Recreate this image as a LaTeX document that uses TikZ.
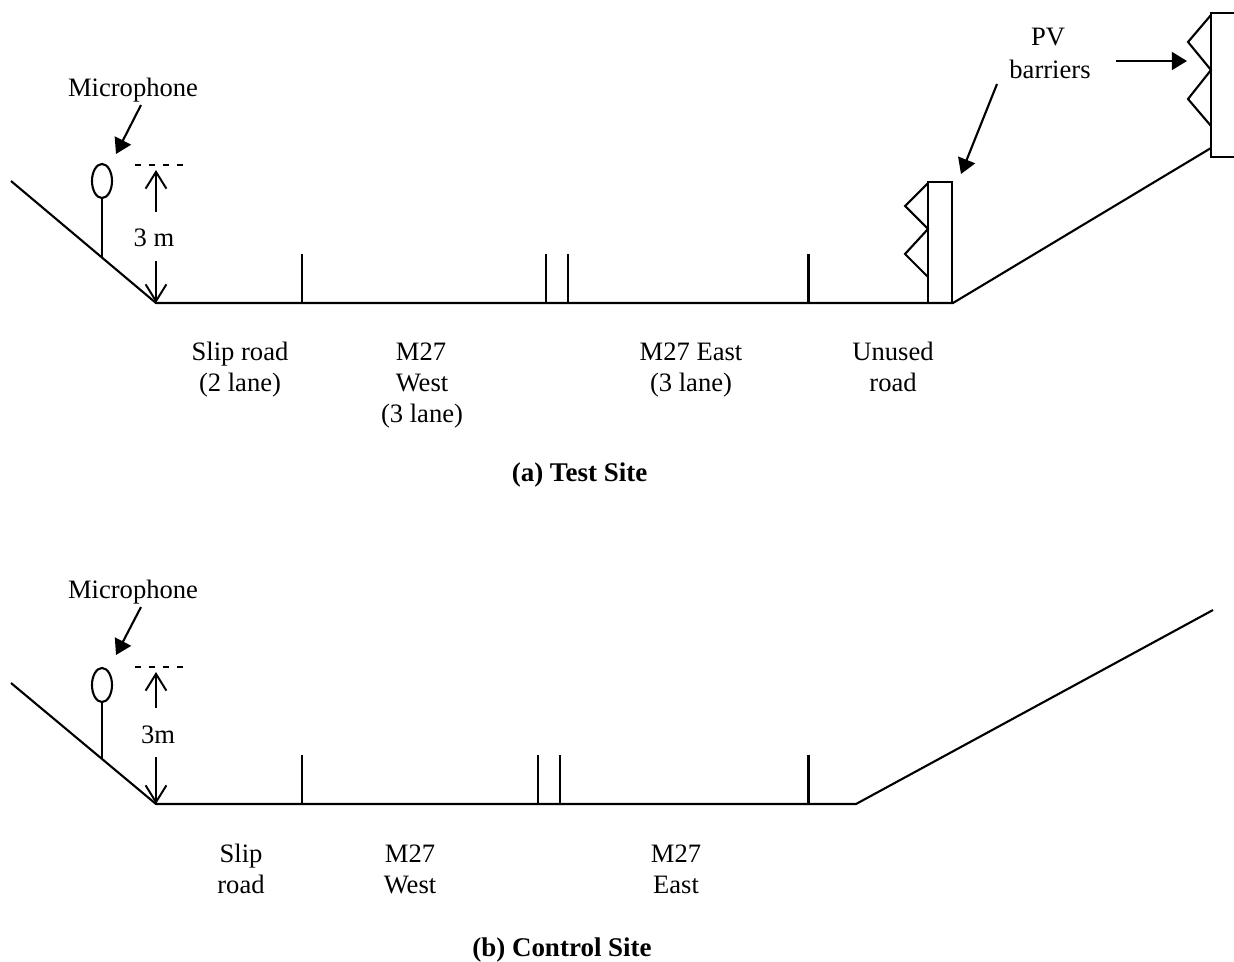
\documentclass[tikz,border=0pt]{standalone}
\usepackage{fontspec}
\setmainfont{Liberation Serif}
\usetikzlibrary{arrows.meta,shapes.geometric}

\tikzset{
  road/.style={line width=1.5pt},
  labelarrow/.style={line width=1.5pt, -{Triangle[length=0.38cm,width=0.45cm]}},
  heightarrow/.style={line width=1.4pt, -{Straight Barb[length=0.42cm,width=0.52cm]}},
  levelline/.style={line width=1.2pt, dash pattern=on 4.6pt off 5.3pt},
  mic/.style={draw, road, ellipse, minimum width=0.5cm, minimum height=0.85cm, inner sep=0pt},
  txt/.style={anchor=base, inner sep=0pt, font=\fontsize{18.9}{22}\selectfont},
  title/.style={txt, font=\fontsize{19.2}{22}\selectfont\bfseries}
}

\begin{document}
\begin{tikzpicture}[x=0.025cm, y=-0.025cm]
\useasboundingbox (0,0) rectangle (1234,961);

\def\xs{11};
\def\xm{102};
\def\xh{156};
\def\xa{301.6};
\def\xd{808.5};

% (a) test site
\def\yg{303};
\def\yt{254};

\coordinate (slopeA) at (\xs, 181);
\coordinate (toeA) at (\xh, \yg);
\coordinate (endA) at (953, \yg);
\coordinate (topA) at (1211, 148);
\draw[road] (slopeA) -- (toeA) -- (endA) -- (topA);

\node[mic] (micA) at (\xm, 181) {};
\coordinate (footA) at (\xm, 258);
\draw[road] (micA) -- (footA);

\draw[road] (\xa, \yt) -- (\xa, \yg);
\draw[road] (546, \yt) -- (546, \yg);
\draw[road] (568, \yt) -- (568, \yg);
\draw[road] (\xd, \yt) -- (\xd, \yg);

\coordinate (lvlaA) at (135, 165);
\coordinate (lvlbA) at (183, 165);
\draw[levelline] (lvlaA) -- (lvlbA);

\node[txt] (hA) at (154, 246) {3 m};
\draw[heightarrow] (\xh, 212) -- (\xh, 170);
\draw[heightarrow] (\xh, 261) -- (toeA);

\node[txt] (lblmicA) at (133, 96) {Microphone};
\coordinate (micfromA) at (141, 105);
\coordinate (mictoA) at (116, 154);
\draw[labelarrow] (micfromA) -- (mictoA);

% barriers
\draw[road] (928, 182) rectangle (952, \yg);
\draw[road] (928, 183) -- (905, 206) -- (928, 229) -- (905, 254) -- (928, 277);
\draw[road] (1234, 13) -- (1211, 13) -- (1211, 157) -- (1234, 157);
\draw[road] (1211, 15) -- (1188, 42) -- (1211, 70) -- (1188, 99) -- (1211, 126);

\node[txt] (lblpv) at (1048, 45) {PV};
\node[txt] (lblbar) at (1050, 78) {barriers};
\coordinate (pvfroma) at (997, 84);
\coordinate (pvtoa) at (961, 174);
\coordinate (pvfromb) at (1116, 61);
\coordinate (pvtob) at (1187, 61);
\draw[labelarrow] (pvfroma) -- (pvtoa);
\draw[labelarrow] (pvfromb) -- (pvtob);

\node[txt] (sliprA) at (240, 360) {Slip road};
\node[txt] (sliplA) at (240, 391) {(2 lane)};
\node[txt] (mwa) at (421, 360) {M27};
\node[txt] (mwb) at (422, 391) {West};
\node[txt] (mwc) at (422, 422) {(3 lane)};
\node[txt] (mea) at (691, 360) {M27 East};
\node[txt] (meb) at (691, 391) {(3 lane)};
\node[txt] (una) at (893, 360) {Unused};
\node[txt] (unb) at (893, 391) {road};
\node[title] (titleA) at (579.5, 481) {(a) Test Site};

% (b) control site
\def\yG{804};
\def\yT{755};

\coordinate (slopeB) at (\xs, 683);
\coordinate (toeB) at (\xh, \yG);
\coordinate (endB) at (856, \yG);
\coordinate (topB) at (1213, 610);
\draw[road] (slopeB) -- (toeB) -- (endB) -- (topB);

\node[mic] (micB) at (\xm, 685) {};
\coordinate (footB) at (\xm, 758);
\draw[road] (micB) -- (footB);

\draw[road] (\xa, \yT) -- (\xa, \yG);
\draw[road] (538, \yT) -- (538, \yG);
\draw[road] (560, \yT) -- (560, \yG);
\draw[road] (\xd, \yT) -- (\xd, \yG);

\coordinate (lvlaB) at (135, 667);
\coordinate (lvlbB) at (183, 667);
\draw[levelline] (lvlaB) -- (lvlbB);

\node[txt] (hB) at (158, 743) {3m};
\draw[heightarrow] (\xh, 708) -- (\xh, 672);
\draw[heightarrow] (\xh, 757) -- (toeB);

\node[txt] (lblmicB) at (133, 598) {Microphone};
\coordinate (micfromB) at (141, 607);
\coordinate (mictoB) at (116, 655);
\draw[labelarrow] (micfromB) -- (mictoB);

\node[txt] (sliprB) at (241, 862) {Slip};
\node[txt] (sliplB) at (241, 893) {road};
\node[txt] (mwd) at (410, 862) {M27};
\node[txt] (mwe) at (410, 893) {West};
\node[txt] (med) at (676, 862) {M27};
\node[txt] (mee) at (676, 893) {East};
\node[title] (titleB) at (562, 956) {(b) Control Site};

\end{tikzpicture}
\end{document}
